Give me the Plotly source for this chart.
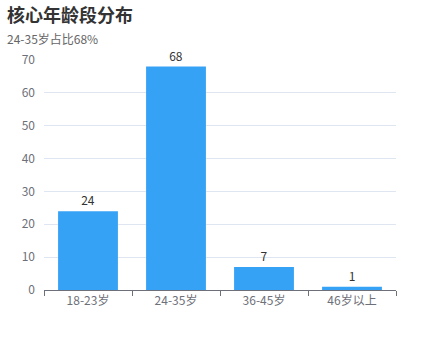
import plotly.graph_objects as go

categories = ["18-23岁", "24-35岁", "36-45岁", "46岁以上"]
values = [24, 68, 7, 1]
title_text = "核心年龄段分布"
subtitle_text = "24-35岁占比68%"

font_family = "Microsoft YaHei, Noto Sans CJK SC, sans-serif"

fig = go.Figure(go.Bar(
    x=categories, y=values,
    marker=dict(color="#36a2f5", line=dict(width=0)),
    text=[str(v) for v in values], textposition="outside",
    textfont=dict(size=12, color="#333333", family=font_family),
    cliponaxis=False,
))

L, R, T, B = 44, 43, 60, 70
W, H = 439, 360
plot_w = W - L - R
plot_h = H - T - B

def px_x(x):
    return (x - L) / plot_w

def px_y(y):
    return 1 + (T - y) / plot_h

fig.update_layout(
    width=W, height=H,
    margin=dict(l=L, r=R, t=T, b=B),
    paper_bgcolor="white", plot_bgcolor="white",
    bargap=0.32,
    showlegend=False,
    font=dict(family=font_family, size=12, color="#6e7079"),
    annotations=[
        dict(text="<b>" + title_text + "</b>", x=px_x(5), y=px_y(14), xref="paper", yref="paper",
             showarrow=False, xanchor="left", yanchor="middle",
             font=dict(size=18, color="#333333", family=font_family)),
        dict(text=subtitle_text, x=px_x(5), y=px_y(38), xref="paper", yref="paper",
             showarrow=False, xanchor="left", yanchor="middle",
             font=dict(size=12, color="#666666", family=font_family)),
    ],
)

fig.update_xaxes(
    showline=True, linecolor="#6e7079", linewidth=1,
    ticks="outside", tickson="boundaries", ticklen=5, tickcolor="#6e7079",
    tickfont=dict(size=12, color="#6e7079"), showgrid=False,
)
fig.update_yaxes(
    range=[0, 70], dtick=10, showgrid=True, gridcolor="#E0E6F1", gridwidth=1,
    zeroline=False, showline=False, ticks="", ticklabelstandoff=8,
    tickfont=dict(size=12, color="#6e7079"),
)

fig.write_html("out.html", config={"displayModeBar": False},
               post_script="document.body.style.margin='0';document.body.style.overflow='hidden';")
